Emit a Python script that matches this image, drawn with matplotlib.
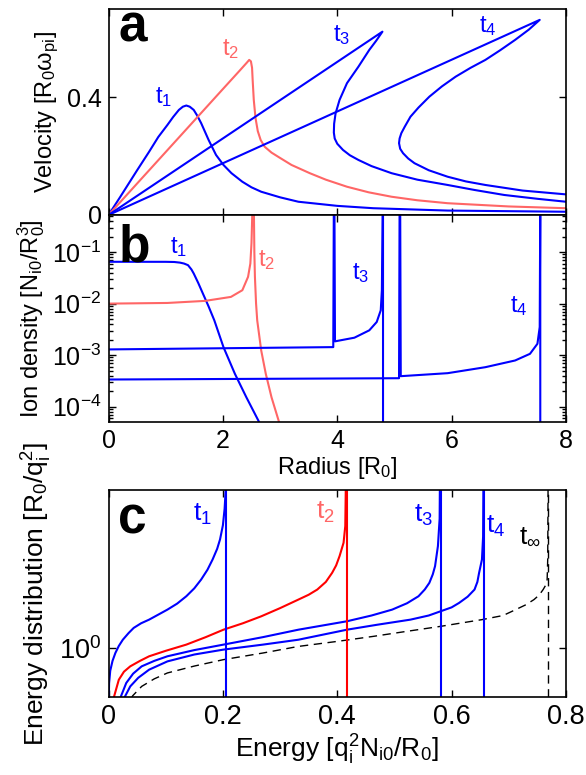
import numpy as np
import matplotlib
matplotlib.use("Agg")
import matplotlib.pyplot as plt
from matplotlib.ticker import FixedLocator, NullLocator, LogLocator

plt.rcParams['font.family'] = ['Liberation Sans', 'DejaVu Sans']
plt.rcParams['mathtext.fontset'] = 'custom'
plt.rcParams['mathtext.rm'] = 'Liberation Sans'
plt.rcParams['mathtext.it'] = 'Liberation Sans'
plt.rcParams['mathtext.default'] = 'regular'

BLUE = '#0000ff'
SALMON = '#ff6666'
RED = '#ff0000'

# ---------------- Panel a: velocity vs radius ----------------
a_t1_r = [0, 0.2, 0.5, 0.71, 0.87, 1.03, 1.13, 1.23, 1.30, 1.36, 1.42, 1.49, 1.55, 1.62, 1.75, 1.88, 2.01,
          2.15, 2.34, 2.5, 2.67, 3.0, 3.32, 4.0, 4.63, 5.93, 8.0]
a_t1_v = [0, 0.06, 0.152, 0.215, 0.265, 0.306, 0.333, 0.357, 0.368, 0.372, 0.368, 0.357, 0.338, 0.312, 0.255,
          0.204, 0.170, 0.142, 0.113, 0.094, 0.079, 0.060, 0.045, 0.031, 0.023, 0.015, 0.011]

a_t2_r = [0, 1.0, 2.0, 2.3, 2.42, 2.46, 2.49, 2.51, 2.52, 2.54, 2.57, 2.61, 2.66, 2.73, 2.85, 2.99, 3.2, 3.52,
          3.8, 4.17, 4.55, 4.95, 5.4, 5.93, 7.0, 8.0]
a_t2_v = [0, 0.214, 0.428, 0.492, 0.518, 0.527, 0.522, 0.50, 0.46, 0.391, 0.33, 0.285, 0.255, 0.232, 0.212,
          0.195, 0.170, 0.142, 0.120, 0.096, 0.077, 0.062, 0.050, 0.040, 0.029, 0.023]

a_t3_r = [0, 4.79, 4.68, 4.56, 4.37, 4.17, 4.04, 3.97, 3.945, 3.94, 3.955, 4.0, 4.10, 4.22, 4.37, 4.6, 4.95,
          5.4, 5.93, 6.4, 6.92, 7.5, 8.0]
a_t3_v = [0, 0.623, 0.592, 0.561, 0.504, 0.448, 0.391, 0.345, 0.31, 0.28, 0.26, 0.242, 0.221, 0.203, 0.187,
          0.166, 0.142, 0.120, 0.102, 0.085, 0.068, 0.055, 0.045]

a_t4_r = [0, 7.54, 7.35, 7.11, 6.85, 6.59, 6.33, 6.07, 5.83, 5.61, 5.42, 5.28, 5.18, 5.12, 5.09, 5.08, 5.10,
          5.15, 5.24, 5.35, 5.6, 5.93, 6.25, 6.59, 7.24, 8.0]
a_t4_v = [0, 0.663, 0.630, 0.595, 0.560, 0.527, 0.500, 0.470, 0.437, 0.402, 0.365, 0.334, 0.300, 0.278,
          0.260, 0.244, 0.225, 0.210, 0.192, 0.176, 0.152, 0.130, 0.114, 0.102, 0.083, 0.070]

# ---------------- Panel b: ion density vs radius ----------------
b_t1_r = [0, 1.0, 1.15, 1.25, 1.32, 1.39, 1.45, 1.49, 1.57, 1.65, 1.75, 1.85, 2.01, 2.21, 2.41, 2.63, 2.75]
b_t1_n = [0.0649, 0.0648, 0.0643, 0.0625, 0.060, 0.0558, 0.046, 0.0384, 0.025, 0.0157, 0.0088, 0.00473,
          0.00143, 4.33e-4, 1.52e-4, 5.1e-5, 2.5e-5]

b_t2_r = [0, 1.03, 1.69, 2.14, 2.34, 2.44, 2.48, 2.50, 2.52, 2.54, 2.55, 2.56, 2.58, 2.60, 2.67, 2.75, 2.85,
          2.98, 3.05]
b_t2_n = [0.0100, 0.0103, 0.0113, 0.0135, 0.0182, 0.0331, 0.060, 0.15, 1.0, 1.0, 0.10, 0.0331, 0.010,
          0.00473, 0.00123, 4.33e-4, 1.52e-4, 5.1e-5, 3.2e-5]

b_t3_r = [0, 3.93, 3.94, 3.95, 3.96, 4.30, 4.56, 4.69, 4.76, 4.78, 4.795, 4.80, 4.80]
b_t3_n = [1.29e-3, 1.43e-3, 1.0, 1.0, 1.85e-3, 2.18e-3, 3.03e-3, 4.40e-3, 7.41e-3, 0.0182, 1.0, 1.0, 1e-6]

b_t4_r = [0, 5.08, 5.09, 5.10, 5.11, 5.93, 6.59, 7.11, 7.37, 7.50, 7.54, 7.55, 7.55]
b_t4_n = [3.36e-4, 3.56e-4, 1.0, 1.0, 3.90e-4, 4.46e-4, 5.83e-4, 7.87e-4, 1.06e-3, 1.66e-3, 3.51e-3, 1.0, 1e-6]

# ---------------- Panel c: energy distribution ----------------
c_t1_E = [0, 0.001, 0.003, 0.007, 0.012, 0.018, 0.025, 0.035, 0.044, 0.057, 0.071, 0.087, 0.103, 0.12, 0.136,
          0.15, 0.162, 0.173, 0.182, 0.19, 0.195, 0.200, 0.203, 0.205, 0.206]
c_t1_f = [0.40, 0.60, 0.72, 0.83, 0.931, 1.03, 1.127, 1.24, 1.337, 1.43, 1.507, 1.62, 1.742, 1.90, 2.113,
          2.37, 2.692, 3.10, 3.597, 4.20, 4.809, 5.90, 7.50, 10.0, 20.0]

c_t2_E = [0.005, 0.010, 0.018, 0.027, 0.038, 0.055, 0.071, 0.100, 0.136, 0.170, 0.201, 0.235, 0.267, 0.300,
          0.332, 0.350, 0.365, 0.380, 0.391, 0.398, 0.404, 0.411, 0.414, 0.416]
c_t2_f = [0.40, 0.50, 0.632, 0.71, 0.767, 0.83, 0.887, 0.96, 1.050, 1.17, 1.303, 1.43, 1.581, 1.78, 2.014,
          2.16, 2.328, 2.60, 2.965, 3.30, 3.776, 4.581, 5.834, 20.0]

c_t3_E = [0.015, 0.022, 0.031, 0.043, 0.058, 0.080, 0.103, 0.150, 0.201, 0.270, 0.332, 0.417, 0.460, 0.496,
          0.522, 0.542, 0.553, 0.561, 0.567, 0.571, 0.576, 0.579, 0.580]
c_t3_f = [0.40, 0.50, 0.603, 0.69, 0.767, 0.83, 0.887, 0.97, 1.050, 1.17, 1.303, 1.472, 1.60, 1.742, 1.91,
          2.113, 2.33, 2.564, 2.90, 3.266, 4.365, 6.5, 20.0]

c_t4_E = [0.02, 0.028, 0.038, 0.052, 0.071, 0.103, 0.150, 0.201, 0.270, 0.332, 0.417, 0.470, 0.528, 0.560,
          0.581, 0.600, 0.613, 0.628, 0.640, 0.645, 0.648, 0.653, 0.655, 0.656]
c_t4_f = [0.40, 0.49, 0.574, 0.65, 0.731, 0.824, 0.91, 0.977, 1.05, 1.127, 1.303, 1.40, 1.507, 1.60, 1.702,
          1.80, 1.919, 2.10, 2.328, 2.60, 2.965, 3.597, 5.0, 20.0]

c_tinf_E = [0.03, 0.042, 0.058, 0.080, 0.103, 0.150, 0.201, 0.270, 0.332, 0.400, 0.463, 0.520, 0.581, 0.653,
            0.690, 0.712, 0.730, 0.744, 0.753, 0.760, 0.765, 0.767, 0.768, 0.769]
c_tinf_f = [0.40, 0.50, 0.574, 0.64, 0.697, 0.77, 0.845, 0.93, 1.023, 1.10, 1.183, 1.27, 1.368, 1.507, 1.60,
            1.742, 1.87, 2.014, 2.15, 2.328, 2.50, 2.692, 3.597, 20.0]

c_cutoffs = [0.206, 0.417, 0.582, 0.657]
c_cutoff_colors = [BLUE, RED, BLUE, BLUE]
c_tinf_cutoff = 0.769

LW = 1.5
TICK_FS = 18
LABEL_FS = 17
TICK_FS_C = 19.5
LABEL_FS_C = 19
LETTER_FS = 37
T_FS = 17
T_FS_C = 19

fig = plt.figure(figsize=(5.86, 7.75), dpi=100)
L, W = 0.1852, 0.7807
ax_a = fig.add_axes([L, 0.7226, W, 0.2658])
ax_b = fig.add_axes([L, 0.4559, W, 0.2667])
ax_c = fig.add_axes([L, 0.1006, W, 0.2671])

for ax, fs in ((ax_a, TICK_FS), (ax_b, TICK_FS), (ax_c, TICK_FS_C)):
    ax.tick_params(direction='in', which='both', top=True, right=True,
                   labelsize=fs, width=1.0, pad=5)
    ax.tick_params(which='major', length=5)
    ax.tick_params(which='minor', length=3)
    for s in ax.spines.values():
        s.set_linewidth(1.2)

# Panel a
ax_a.plot(a_t1_r, a_t1_v, color=BLUE, lw=LW)
ax_a.plot(a_t2_r, a_t2_v, color=SALMON, lw=LW)
ax_a.plot(a_t3_r, a_t3_v, color=BLUE, lw=LW)
ax_a.plot(a_t4_r, a_t4_v, color=BLUE, lw=LW)
ax_a.set_xlim(0, 8)
ax_a.set_ylim(0, 0.7)
ax_a.set_xticks([0, 2, 4, 6, 8])
ax_a.set_xticklabels([])
ax_a.set_yticks([0, 0.4])
ax_a.set_yticklabels(['0', '0.4'])
ax_a.set_ylabel(r'Velocity [R$_0\omega_{pi}$]', fontsize=LABEL_FS)
ax_a.text(0.021, 0.84, 'a', transform=ax_a.transAxes, fontsize=LETTER_FS,
          fontweight='bold', ha='left', va='baseline')
ax_a.text(0.97, 0.40, r'$t_1$', color=BLUE, fontsize=T_FS, ha='center', va='center')
ax_a.text(2.14, 0.563, r'$t_2$', color=SALMON, fontsize=T_FS, ha='center', va='center')
ax_a.text(4.08, 0.612, r'$t_3$', color=BLUE, fontsize=T_FS, ha='center', va='center')
ax_a.text(6.63, 0.642, r'$t_4$', color=BLUE, fontsize=T_FS, ha='center', va='center')

# Panel b
ax_b.plot(b_t1_r, b_t1_n, color=BLUE, lw=LW)
ax_b.plot(b_t2_r, b_t2_n, color=SALMON, lw=LW)
ax_b.plot(b_t3_r, b_t3_n, color=BLUE, lw=LW)
ax_b.plot(b_t4_r, b_t4_n, color=BLUE, lw=LW)
ax_b.set_yscale('log')
ax_b.set_xlim(0, 8)
ax_b.set_ylim(5.1e-5, 0.526)
ax_b.yaxis.set_major_locator(FixedLocator([1e-4, 1e-3, 1e-2, 1e-1]))
ax_b.yaxis.set_minor_locator(LogLocator(base=10, subs=np.arange(2, 10)))
ax_b.set_xticks([0, 2, 4, 6, 8])
ax_b.set_xticklabels(['0', '2', '4', '6', '8'])
ax_b.set_xlabel(r'Radius [R$_0$]', fontsize=LABEL_FS, labelpad=2)
ax_b.set_ylabel(r'Ion density [N$_{i0}$/R$_0^3$]', fontsize=LABEL_FS)
ax_b.text(0.021, 0.773, 'b', transform=ax_b.transAxes, fontsize=LETTER_FS,
          fontweight='bold', ha='left', va='baseline')
ax_b.text(1.23, 10**-0.909, r'$t_1$', color=BLUE, fontsize=T_FS, ha='center', va='center')
ax_b.text(2.76, 10**-1.156, r'$t_2$', color=SALMON, fontsize=T_FS, ha='center', va='center')
ax_b.text(4.41, 10**-1.416, r'$t_3$', color=BLUE, fontsize=T_FS, ha='center', va='center')
ax_b.text(7.18, 10**-2.045, r'$t_4$', color=BLUE, fontsize=T_FS, ha='center', va='center')

# Panel c
ax_c.plot(c_t1_E, c_t1_f, color=BLUE, lw=LW)
ax_c.plot(c_t2_E, c_t2_f, color=RED, lw=LW)
ax_c.plot(c_t3_E, c_t3_f, color=BLUE, lw=LW)
ax_c.plot(c_t4_E, c_t4_f, color=BLUE, lw=LW)
ax_c.plot(c_tinf_E, c_tinf_f, color='black', lw=1.0, ls=(0, (6, 4)))
for e, col in zip(c_cutoffs, c_cutoff_colors):
    ax_c.axvline(e, color=col, lw=LW)
ax_c.axvline(c_tinf_cutoff, color='black', lw=1.0, ls=(0, (6, 4)))
ax_c.set_yscale('log')
ax_c.set_xlim(0, 0.8)
ax_c.set_ylim(0.492, 9.82)
ax_c.yaxis.set_major_locator(FixedLocator([1.0]))
ax_c.yaxis.set_minor_locator(NullLocator())
ax_c.set_xticks([0, 0.2, 0.4, 0.6, 0.8])
ax_c.set_xticklabels(['0', '0.2', '0.4', '0.6', '0.8'])
ax_c.set_xlabel(r'Energy [q$_i^2$N$_{i0}$/R$_0$]', fontsize=LABEL_FS_C, labelpad=2)
ax_c.set_ylabel(r'Energy distribution [R$_0$/q$_i^2$]', fontsize=LABEL_FS_C)
ax_c.text(0.021, 0.79, 'c', transform=ax_c.transAxes, fontsize=LETTER_FS,
          fontweight='bold', ha='left', va='baseline')
ax_c.text(0.165, 10**0.840, r'$t_1$', color=BLUE, fontsize=T_FS_C, ha='center', va='center')
ax_c.text(0.380, 10**0.850, r'$t_2$', color=SALMON, fontsize=T_FS_C, ha='center', va='center')
ax_c.text(0.550, 10**0.830, r'$t_3$', color=BLUE, fontsize=T_FS_C, ha='center', va='center')
ax_c.text(0.677, 10**0.765, r'$t_4$', color=BLUE, fontsize=T_FS_C, ha='center', va='center')
ax_c.text(0.737, 10**0.705, r'$t_\infty$', color='black', fontsize=T_FS_C, ha='center', va='center')

fig.savefig('out.png', dpi=100)
